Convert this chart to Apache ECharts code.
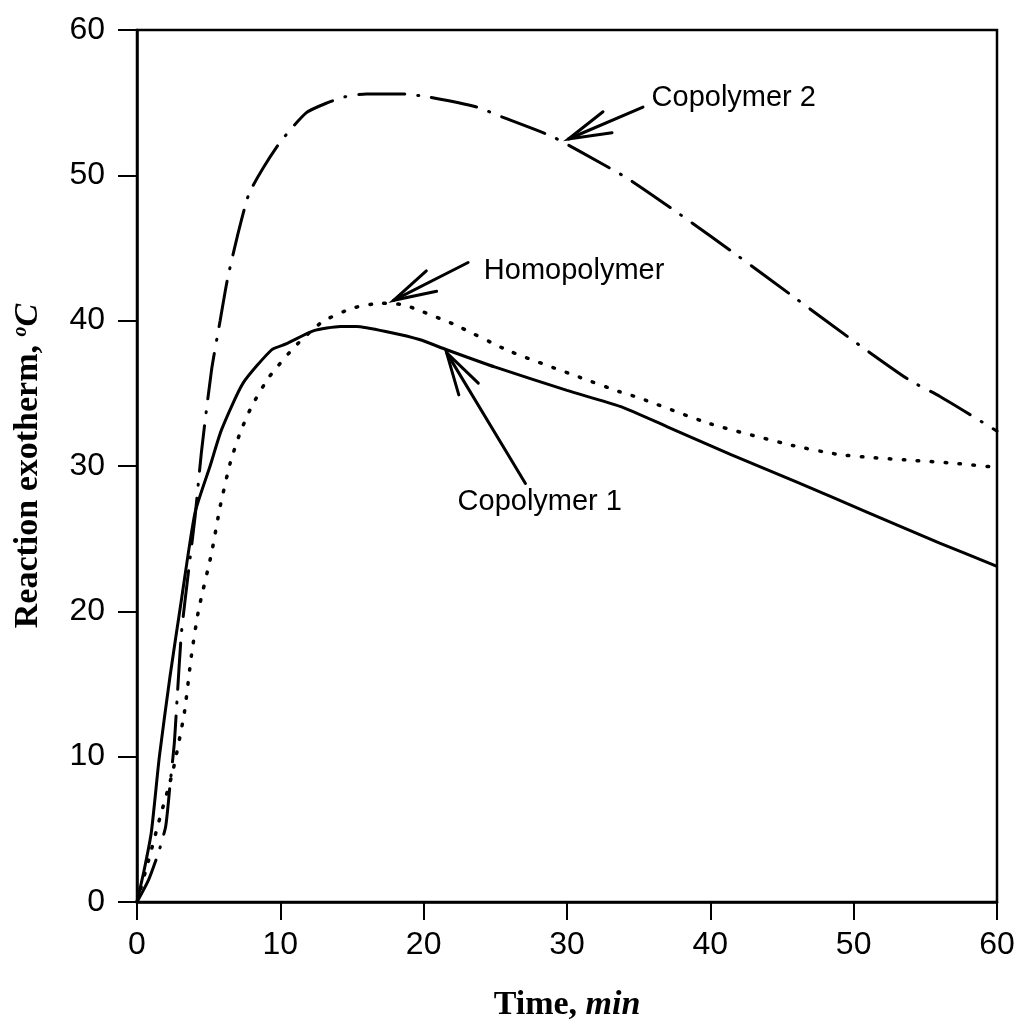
<!DOCTYPE html>
<html>
<head>
<meta charset="utf-8">
<script src="https://cdn.jsdelivr.net/npm/echarts@6/dist/echarts.min.js"></script>
<style>
  html, body { margin: 0; padding: 0; background: #fff; }
  #chart { width: 1020px; height: 1035px; }
</style>
</head>
<body>
<div id="chart"></div>
<script>
// curves (time in min, exotherm in degC)
const copo1Time = [0, 0.5, 1.0, 1.56, 2.3, 3.1, 4.05, 5.1, 5.9, 7.4, 9.4, 10.4, 12.3, 14.2, 15.3, 17.6, 19.7, 21.6, 25, 30, 33.7, 37, 41.4, 46, 51, 56, 60];
const copo1Temp = [0, 2.2, 4.8, 10, 15.5, 20.8, 26.8, 30, 32.5, 35.7, 38, 38.4, 39.3, 39.6, 39.6, 39.2, 38.7, 38, 36.8, 35.2, 34.1, 32.7, 30.8, 28.9, 26.8, 24.7, 23.1];

const homoTime = [0, 0.9, 1.6, 2.5, 3.3, 3.8, 4.3, 5.2, 5.8, 6.5, 7.2, 8.0, 9.2, 11, 12.9, 15, 17, 18.6, 19.7, 22, 26, 30.9, 33.7, 35, 40, 45.8, 48.9, 51, 53.9, 56.9, 60];
const homoTemp = [0, 3.2, 5.8, 9, 13, 17, 20.1, 24, 27.2, 30.2, 32.3, 34.1, 36.1, 38.2, 39.9, 40.85, 41.2, 41.1, 40.7, 39.8, 37.9, 36.1, 35.1, 34.7, 32.9, 31.4, 30.8, 30.6, 30.4, 30.2, 29.9];

const copo2Time = [0, 0.8, 1.5, 2.0, 2.3, 2.6, 2.8, 3.1, 3.6, 4.05, 4.5, 5.2, 5.8, 6.3, 7.0, 7.8, 8.8, 10, 11.8, 13.3, 14.5, 16, 18.5, 20.3, 23.7, 25.5, 28.9, 30.8, 34.2, 37.9, 42, 46, 50, 53.9, 56, 60];
const copo2Temp = [0, 1.5, 3.4, 5.2, 8.0, 10.9, 14, 18.5, 22.8, 26.5, 31, 36.6, 40, 42.8, 45.8, 48.7, 50.5, 52.3, 54.3, 55.0, 55.4, 55.6, 55.6, 55.4, 54.7, 54.0, 52.7, 51.7, 49.8, 47.3, 44.4, 41.5, 38.6, 35.9, 34.8, 32.4];

const xTicks = [0, 10, 20, 30, 40, 50, 60];
const yTicks = [0, 10, 20, 30, 40, 50, 60];

// arrow annotations, in data units
const annoLabels = ['Copolymer 2', 'Homopolymer', 'Copolymer 1'];
const annoTip = [[30.1, 52.5], [17.9, 41.4], [21.6, 37.8]];
const annoTail = [[35.3, 54.7], [23.1, 44.0], [27.1, 28.8]];
const annoText = [[35.9, 55.3], [24.2, 43.4], [28.1, 27.5]];

const zip = (xs, ys) => xs.map((x, i) => [x, ys[i]]);
const textAlign = ['left', 'left', 'center'];

let myChart = echarts.init(document.getElementById('chart'));

const curve = (name, xs, ys, lineStyle) => ({
  type: 'line',
  name: name,
  data: zip(xs, ys),
  symbol: 'none',
  smooth: 0.2,
  lineStyle: Object.assign({ color: '#000', width: 3 }, lineStyle),
  z: 3
});

const serifBold = { fontFamily: 'Liberation Serif', fontWeight: 'bold', fontSize: 34, color: '#000' };

let option = {
  animation: false,
  backgroundColor: '#fff',
  grid: {
    left: 137,
    right: 23,
    top: 30,
    bottom: 133,
    show: true,
    borderColor: '#000',
    borderWidth: 2.5
  },
  xAxis: {
    type: 'value',
    min: xTicks[0],
    max: xTicks[xTicks.length - 1],
    interval: 10,
    name: '{b|Time, }{bi|min}',
    nameLocation: 'middle',
    nameGap: 86,
    nameTextStyle: {
      rich: {
        b: serifBold,
        bi: Object.assign({}, serifBold, { fontStyle: 'italic' })
      }
    },
    axisLine: { lineStyle: { color: '#000', width: 2.5 } },
    axisTick: { inside: false, length: 18, lineStyle: { color: '#000', width: 2 } },
    axisLabel: {
      margin: 27,
      color: '#000',
      fontFamily: 'Liberation Sans',
      fontSize: 32
    },
    splitLine: { show: false }
  },
  yAxis: {
    type: 'value',
    min: yTicks[0],
    max: yTicks[yTicks.length - 1],
    interval: 10,
    name: '{b|Reaction exotherm, }{sup|o}{i|C}',
    nameLocation: 'middle',
    nameGap: 92,
    nameTextStyle: {
      rich: {
        b: serifBold,
        sup: Object.assign({}, serifBold, { fontStyle: 'italic', fontSize: 20, verticalAlign: 'top', padding: [0, 0, 14, 0] }),
        i: Object.assign({}, serifBold, { fontStyle: 'italic' })
      }
    },
    axisLine: { show: true, lineStyle: { color: '#000', width: 2.5 } },
    axisTick: { show: true, inside: false, length: 19, lineStyle: { color: '#000', width: 2 } },
    axisLabel: {
      margin: 32,
      color: '#000',
      fontFamily: 'Liberation Sans',
      fontSize: 32
    },
    splitLine: { show: false }
  },
  series: [
    curve('Copolymer 1', copo1Time, copo1Temp, { type: 'solid' }),
    curve('Homopolymer', homoTime, homoTemp, { type: [1.5, 12.5], cap: 'round', width: 3.5 }),
    curve('Copolymer 2', copo2Time, copo2Temp, { type: [46, 13, 1, 13], cap: 'round' }),
    {
      type: 'custom',
      name: 'labels',
      coordinateSystem: 'cartesian2d',
      clip: false,
      z: 5,
      encode: { x: [0, 2, 4], y: [1, 3, 5] },
      data: annoLabels.map((_, i) => annoTip[i].concat(annoTail[i], annoText[i])),
      renderItem: function (params, api) {
        const i = params.dataIndex;
        const tip = api.coord([api.value(0), api.value(1)]);
        const tail = api.coord([api.value(2), api.value(3)]);
        const txt = api.coord([api.value(4), api.value(5)]);
        const ang = Math.atan2(tail[1] - tip[1], tail[0] - tip[0]);
        const spread = 15 * Math.PI / 180;
        const len = 44;
        const arm1 = [tip[0] + len * Math.cos(ang - spread), tip[1] + len * Math.sin(ang - spread)];
        const arm2 = [tip[0] + len * Math.cos(ang + spread), tip[1] + len * Math.sin(ang + spread)];
        const stroke = { stroke: '#000', lineWidth: 3, fill: null, lineCap: 'round' };
        return {
          type: 'group',
          children: [
            { type: 'polyline', shape: { points: [tail, tip] }, style: stroke },
            { type: 'polyline', shape: { points: [arm1, tip, arm2] }, style: stroke },
            {
              type: 'text',
              x: txt[0],
              y: txt[1],
              style: {
                text: annoLabels[i],
                fill: '#000',
                font: '29px "Liberation Sans"',
                align: textAlign[i],
                verticalAlign: 'middle'
              }
            }
          ]
        };
      }
    }
  ]
};

myChart.setOption(option);
</script>
</body>
</html>
